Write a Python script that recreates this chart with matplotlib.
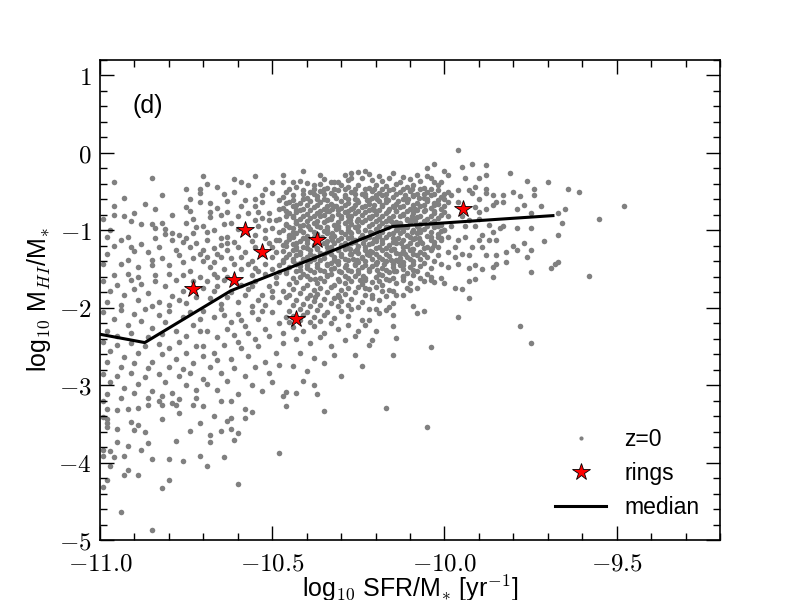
import matplotlib
matplotlib.use('Agg')
import matplotlib.pyplot as plt
import numpy as np
from matplotlib.lines import Line2D
from matplotlib.ticker import MultipleLocator, FuncFormatter

plt.rcParams['font.family'] = ['Liberation Sans', 'DejaVu Sans']
plt.rcParams['mathtext.fontset'] = 'cm'

# ---------------- data ----------------
# z=0 galaxies: (log10 SFR/M*, log10 MHI/M*), grouped by region of the cloud
z0_far_left = [
    (-10.96,-0.37),(-10.85,-0.33),(-10.70,-0.30),(-10.75,-0.47),(-10.71,-0.46),(-10.71,-0.52),(-10.71,-0.63),
    (-10.87,-0.66),(-10.75,-0.70),(-10.74,-0.75),(-10.96,-0.69),(-10.96,-0.80),(-10.93,-0.82),(-10.91,-0.88),
    (-10.88,-0.92),(-10.85,-0.92),(-10.82,-0.91),(-10.84,-0.97),(-10.75,-0.91),(-10.73,-0.85),(-10.70,-0.94),
    (-10.96,-1.20),(-10.91,-1.21),(-10.84,-1.10),(-10.81,-1.05),(-10.79,-1.12),(-10.77,-1.06),(-10.76,-1.15),
    (-10.75,-1.10),(-10.74,-1.21),(-10.72,-1.17),(-10.98,-1.30),(-10.99,-1.43),(-10.94,-1.43),(-10.92,-1.38),
    (-10.89,-1.47),(-10.85,-1.38),(-10.85,-1.45),(-10.82,-1.36),(-10.80,-1.45),(-10.77,-1.32),(-10.76,-1.41),
    (-10.73,-1.36),(-10.71,-1.30),(-10.92,-1.56),(-10.89,-1.60),(-10.84,-1.58),(-10.80,-1.56),(-10.76,-1.58),
    (-10.74,-1.53),(-10.71,-1.60),(-10.96,-1.58),(-10.99,-0.86),(-10.97,-1.00),(-10.94,-1.12),(-10.92,-1.08),
    (-10.90,-1.27),(-10.88,-1.18),(-10.86,-1.28),(-10.83,-1.22),(-10.81,-0.98),(-10.79,-1.04),(-10.78,-1.26),
    (-10.73,-1.03),(-10.72,-0.96),(-10.98,-1.08),(-10.90,-0.78),(-10.84,-0.72),(-10.79,-0.80),(-10.74,-0.60),
    (-10.82,-0.55),(-10.93,-0.58),
    (-10.99,-1.66),(-10.97,-1.78),(-10.95,-1.70),(-10.93,-1.84),(-10.91,-1.64),(-10.90,-1.76),(-10.88,-1.69),
    (-10.86,-1.81),(-10.84,-1.66),(-10.83,-1.92),(-10.81,-1.72),(-10.79,-1.85),(-10.78,-1.64),(-10.76,-1.78),
    (-10.75,-1.94),(-10.73,-1.66),(-10.72,-1.86),(-10.70,-1.74),(-10.98,-1.93),(-10.94,-1.97),(-10.89,-1.90),
    (-10.85,-1.98),(-10.80,-1.96),(-10.77,-1.90),
    (-10.99,-2.06),(-10.96,-2.14),(-10.94,-2.03),(-10.92,-2.22),(-10.90,-2.08),(-10.88,-2.17),(-10.87,-2.02),
    (-10.85,-2.26),(-10.83,-2.10),(-10.81,-2.18),(-10.80,-2.04),(-10.78,-2.30),(-10.76,-2.12),(-10.74,-2.06),
    (-10.73,-2.22),(-10.71,-2.14),(-10.98,-2.30),(-10.95,-2.36),(-10.91,-2.32),(-10.86,-2.38),(-10.82,-2.34),
    (-10.75,-2.36),(-10.71,-2.30),
    (-10.99,-2.44),(-10.97,-2.56),(-10.95,-2.48),(-10.93,-2.64),(-10.91,-2.46),(-10.89,-2.58),(-10.87,-2.50),
    (-10.85,-2.70),(-10.83,-2.47),(-10.82,-2.60),(-10.80,-2.52),(-10.78,-2.66),(-10.77,-2.44),(-10.75,-2.58),
    (-10.73,-2.72),(-10.72,-2.50),(-10.70,-2.62),(-10.98,-2.70),(-10.94,-2.76),(-10.90,-2.72),(-10.86,-2.78),
    (-10.80,-2.76),(-10.76,-2.79),
    (-10.99,-2.86),(-10.97,-2.96),(-10.95,-2.88),(-10.93,-3.04),(-10.91,-2.84),(-10.89,-2.98),(-10.87,-2.90),
    (-10.85,-3.08),(-10.83,-2.86),(-10.81,-2.96),(-10.79,-3.10),(-10.77,-2.88),(-10.75,-3.00),(-10.74,-2.84),
    (-10.72,-3.06),(-10.70,-2.92),(-10.98,-3.12),(-10.94,-3.16),(-10.90,-3.10),(-10.86,-3.16),(-10.82,-3.14),
    (-10.77,-3.18),(-10.72,-3.16),
    (-10.99,-3.21),(-10.98,-3.31),(-10.95,-3.32),(-10.92,-3.31),(-10.89,-3.30),(-10.86,-3.25),(-10.83,-3.21),
    (-10.82,-3.26),(-10.79,-3.23),(-10.78,-3.25),(-10.73,-3.25),(-10.70,-3.27),(-10.99,-3.41),(-10.98,-3.44),
    (-10.98,-3.49),(-10.98,-3.54),(-10.95,-3.57),(-10.91,-3.48),(-10.89,-3.51),(-10.90,-3.58),(-10.87,-3.60),
    (-10.82,-3.44),(-10.77,-3.36),(-10.74,-3.59),(-10.71,-3.49),(-10.78,-3.72),(-10.86,-3.75),(-10.92,-3.79),
    (-10.95,-3.73),(-10.99,-3.84),(-10.97,-3.85),(-10.99,-3.92),(-10.96,-3.93),(-10.93,-3.92),(-10.88,-3.84),
    (-10.85,-3.96),(-10.80,-3.96),(-10.76,-3.98),(-10.71,-3.91),(-10.97,-4.05),(-10.92,-4.10),(-10.93,-4.16),
    (-10.89,-4.16),(-10.80,-4.23),(-10.82,-4.33),(-10.98,-4.23),(-10.99,-4.31),(-10.94,-4.64),(-10.85,-4.87),
]

z0_mid = [
    (-10.61,-0.34),(-10.59,-0.38),(-10.50,-0.38),(-10.47,-0.37),(-10.64,-0.53),(-10.68,-0.65),(-10.66,-0.71),
    (-10.63,-0.76),(-10.55,-0.59),(-10.58,-0.61),(-10.59,-0.69),(-10.53,-0.54),(-10.52,-0.46),(-10.48,-0.61),
    (-10.46,-0.65),(-10.48,-0.72),(-10.55,-0.69),(-10.54,-0.76),(-10.51,-0.78),(-10.68,-0.83),(-10.65,-0.80),
    (-10.67,-1.00),(-10.69,-1.02),(-10.62,-0.91),(-10.60,-0.82),(-10.55,-0.87),(-10.51,-0.87),(-10.49,-0.87),
    (-10.54,-0.95),(-10.50,-0.97),(-10.46,-0.93),(-10.46,-0.82),(-10.69,-1.12),(-10.65,-1.10),(-10.67,-1.23),
    (-10.65,-1.19),(-10.63,-1.08),(-10.63,-1.17),(-10.61,-1.15),(-10.55,-1.06),(-10.52,-1.10),(-10.49,-1.12),
    (-10.50,-1.21),(-10.47,-1.19),(-10.55,-1.21),(-10.45,-1.08),(-10.69,-1.34),(-10.67,-1.41),(-10.65,-1.34),
    (-10.62,-1.36),(-10.59,-1.34),(-10.57,-1.43),(-10.55,-1.49),(-10.50,-1.34),(-10.48,-1.45),(-10.46,-1.53),
    (-10.67,-1.56),(-10.63,-1.60),(-10.56,-1.58),(-10.52,-1.56),(-10.49,-1.60),
    (-10.69,-0.40),(-10.66,-0.44),(-10.63,-0.62),(-10.61,-0.50),(-10.57,-0.42),(-10.55,-0.30),(-10.53,-0.64),
    (-10.50,-0.52),(-10.47,-0.28),(-10.45,-0.47),(-10.68,-0.76),(-10.64,-0.92),(-10.60,-0.98),(-10.57,-0.78),
    (-10.53,-0.84),(-10.52,-1.00),(-10.48,-1.02),(-10.46,-1.15),(-10.70,-1.26),(-10.66,-1.30),(-10.63,-1.25),
    (-10.60,-1.22),(-10.58,-1.28),(-10.56,-1.14),(-10.53,-1.30),(-10.51,-1.16),(-10.49,-1.28),(-10.47,-1.38),
    (-10.68,-1.48),(-10.64,-1.50),(-10.61,-1.44),(-10.59,-1.50),(-10.56,-1.40),(-10.54,-1.52),(-10.52,-1.44),
    (-10.50,-1.50),(-10.48,-1.54),(-10.70,-1.40),(-10.66,-1.60),
    (-10.69,-1.66),(-10.66,-1.72),(-10.64,-1.64),(-10.62,-1.80),(-10.59,-1.70),(-10.57,-1.76),(-10.55,-1.66),
    (-10.53,-1.84),(-10.51,-1.72),(-10.49,-1.68),(-10.47,-1.78),(-10.68,-1.88),(-10.65,-1.95),(-10.63,-1.86),
    (-10.60,-1.92),(-10.58,-1.84),(-10.56,-1.98),(-10.54,-1.90),(-10.52,-1.96),(-10.50,-1.86),(-10.48,-1.93),
    (-10.46,-1.86),(-10.67,-1.78),(-10.56,-1.72),(-10.50,-1.78),
    (-10.70,-2.04),(-10.67,-2.12),(-10.65,-2.02),(-10.62,-2.18),(-10.60,-2.08),(-10.58,-2.24),(-10.56,-2.06),
    (-10.54,-2.15),(-10.52,-2.28),(-10.50,-2.05),(-10.48,-2.20),(-10.46,-2.12),(-10.69,-2.30),(-10.66,-2.38),
    (-10.63,-2.28),(-10.61,-2.35),(-10.57,-2.32),(-10.55,-2.40),(-10.51,-2.36),(-10.47,-2.32),(-10.64,-2.10),
    (-10.59,-2.16),(-10.53,-2.04),
    (-10.70,-2.50),(-10.67,-2.58),(-10.64,-2.48),(-10.62,-2.66),(-10.59,-2.52),(-10.57,-2.62),(-10.54,-2.50),
    (-10.52,-2.70),(-10.49,-2.58),(-10.47,-2.46),(-10.68,-2.76),(-10.65,-2.84),(-10.61,-2.78),(-10.58,-2.88),
    (-10.55,-2.76),(-10.51,-2.84),(-10.48,-2.74),(-10.66,-2.68),(-10.60,-2.44),
    (-10.69,-2.98),(-10.66,-3.06),(-10.63,-2.95),(-10.60,-3.12),(-10.56,-3.00),(-10.53,-3.08),(-10.50,-2.96),
    (-10.47,-3.14),(-10.41,-2.95),(-10.37,-3.12),
    (-10.65,-3.20),(-10.62,-3.20),(-10.58,-3.31),(-10.56,-3.35),(-10.46,-3.27),(-10.35,-3.33),(-10.67,-3.40),
    (-10.63,-3.46),(-10.62,-3.42),(-10.58,-3.42),(-10.65,-3.59),(-10.62,-3.57),(-10.60,-3.62),(-10.68,-3.65),
    (-10.68,-3.74),(-10.61,-3.71),(-10.69,-4.05),(-10.64,-3.93),(-10.60,-4.28),(-10.48,-3.87),
    (-10.44,-2.25),(-10.41,-2.30),(-10.38,-2.24),(-10.35,-2.33),(-10.31,-2.27),(-10.28,-2.22),(-10.25,-2.30),
    (-10.43,-2.40),(-10.39,-2.45),(-10.36,-2.38),(-10.33,-2.50),(-10.29,-2.42),(-10.26,-2.36),(-10.22,-2.48),
    (-10.42,-2.58),(-10.38,-2.65),(-10.32,-2.61),(-10.26,-2.61),(-10.44,-2.75),(-10.40,-2.82),(-10.35,-2.72),
    (-10.30,-2.88),(-10.43,-3.10),(-10.46,-3.09),(-10.38,-3.00),(-10.24,-2.75),(-10.20,-2.30),(-10.23,-2.22),
]

z0_core = [
    (-10.41,-0.24),(-10.36,-0.28),(-10.27,-0.26),(-10.25,-0.25),(-10.23,-0.23),(-10.44,-0.38),(-10.40,-0.39),
    (-10.36,-0.40),(-10.33,-0.38),(-10.31,-0.37),(-10.28,-0.35),(-10.24,-0.33),(-10.42,-0.74),(-10.43,-0.91),
    (-10.43,-1.21),(-10.43,-1.43),(-10.40,-1.38),
    (-10.29,-0.29),(-10.22,-0.27),(-10.19,-0.30),(-10.15,-0.26),(-10.12,-0.31),(-10.08,-0.28),(-10.05,-0.30),
    (-10.42,-0.36),(-10.35,-0.34),(-10.32,-0.37),(-10.27,-0.33),(-10.21,-0.35),(-10.18,-0.36),(-10.16,-0.33),
    (-10.13,-0.37),(-10.10,-0.34),(-10.07,-0.36),(-10.03,-0.38),
    (-10.43,-0.44),(-10.38,-0.42),(-10.34,-0.45),(-10.30,-0.41),(-10.28,-0.44),(-10.25,-0.42),(-10.22,-0.45),
    (-10.20,-0.41),(-10.17,-0.43),(-10.14,-0.40),(-10.11,-0.44),(-10.09,-0.42),(-10.06,-0.45),(-10.02,-0.41),
    (-10.46,-0.50),(-10.41,-0.48),(-10.39,-0.51),(-10.36,-0.49),(-10.33,-0.52),(-10.31,-0.48),(-10.27,-0.50),
    (-10.24,-0.53),(-10.21,-0.49),(-10.19,-0.52),(-10.16,-0.48),(-10.13,-0.51),(-10.10,-0.49),(-10.08,-0.53),
    (-10.05,-0.50),(-10.02,-0.48),(-9.99,-0.51),
    (-10.47,-0.57),(-10.44,-0.55),(-10.40,-0.58),(-10.37,-0.56),(-10.35,-0.59),(-10.32,-0.55),(-10.29,-0.57),
    (-10.26,-0.59),(-10.23,-0.56),(-10.21,-0.58),(-10.18,-0.55),(-10.15,-0.57),(-10.12,-0.59),(-10.09,-0.56),
    (-10.06,-0.58),(-10.04,-0.55),(-10.01,-0.57),
    (-10.45,-0.63),(-10.42,-0.65),(-10.39,-0.62),(-10.36,-0.64),(-10.33,-0.66),(-10.30,-0.62),(-10.28,-0.65),
    (-10.25,-0.63),(-10.22,-0.66),(-10.19,-0.62),(-10.17,-0.64),(-10.14,-0.66),(-10.11,-0.63),(-10.08,-0.65),
    (-10.05,-0.62),(-10.02,-0.66),(-9.99,-0.64),
    (-10.47,-0.71),(-10.44,-0.69),(-10.41,-0.72),(-10.38,-0.70),(-10.35,-0.73),(-10.32,-0.69),(-10.30,-0.71),
    (-10.27,-0.73),(-10.24,-0.70),(-10.21,-0.72),(-10.18,-0.69),(-10.16,-0.73),(-10.13,-0.70),(-10.10,-0.72),
    (-10.07,-0.69),(-10.04,-0.71),(-10.01,-0.73),
    (-10.45,-0.78),(-10.43,-0.76),(-10.40,-0.79),(-10.37,-0.77),(-10.34,-0.75),(-10.31,-0.79),(-10.29,-0.76),
    (-10.26,-0.78),(-10.23,-0.76),(-10.20,-0.79),(-10.17,-0.77),(-10.14,-0.75),(-10.12,-0.79),(-10.09,-0.77),
    (-10.06,-0.75),(-10.03,-0.78),(-10.00,-0.76),
    (-10.48,-0.85),(-10.44,-0.83),(-10.42,-0.86),(-10.39,-0.84),(-10.36,-0.82),(-10.33,-0.86),(-10.30,-0.84),
    (-10.28,-0.82),(-10.25,-0.85),(-10.22,-0.83),(-10.19,-0.86),(-10.16,-0.84),(-10.13,-0.82),(-10.11,-0.85),
    (-10.08,-0.83),(-10.05,-0.86),(-10.02,-0.84),(-9.99,-0.82),
    (-10.46,-0.92),(-10.43,-0.90),(-10.41,-0.93),(-10.38,-0.91),(-10.35,-0.89),(-10.32,-0.93),(-10.29,-0.90),
    (-10.27,-0.92),(-10.24,-0.89),(-10.21,-0.92),(-10.18,-0.90),(-10.15,-0.93),(-10.13,-0.91),(-10.10,-0.89),
    (-10.07,-0.92),(-10.04,-0.90),(-10.01,-0.93),
    (-10.47,-0.99),(-10.44,-0.97),(-10.42,-1.00),(-10.39,-0.98),(-10.36,-0.96),(-10.34,-1.00),(-10.31,-0.97),
    (-10.28,-0.99),(-10.26,-0.96),(-10.23,-1.00),(-10.20,-0.98),(-10.17,-0.96),(-10.14,-0.99),(-10.12,-0.97),
    (-10.09,-1.00),(-10.06,-0.98),(-10.03,-0.96),(-10.00,-0.99),
    (-10.45,-1.06),(-10.43,-1.04),(-10.40,-1.07),(-10.37,-1.05),(-10.34,-1.03),(-10.32,-1.07),(-10.29,-1.05),
    (-10.27,-1.03),(-10.24,-1.06),(-10.21,-1.04),(-10.19,-1.07),(-10.16,-1.05),(-10.13,-1.03),(-10.11,-1.06),
    (-10.08,-1.04),(-10.05,-1.07),(-10.02,-1.05),
    (-10.48,-1.13),(-10.45,-1.11),(-10.42,-1.14),(-10.40,-1.12),(-10.37,-1.10),(-10.34,-1.14),(-10.31,-1.12),
    (-10.28,-1.10),(-10.26,-1.13),(-10.23,-1.11),(-10.20,-1.14),(-10.18,-1.12),(-10.15,-1.10),(-10.12,-1.13),
    (-10.09,-1.11),(-10.07,-1.14),(-10.04,-1.12),(-10.01,-1.10),
    (-10.46,-1.20),(-10.44,-1.18),(-10.41,-1.21),(-10.38,-1.19),(-10.35,-1.17),(-10.33,-1.21),(-10.30,-1.19),
    (-10.27,-1.17),(-10.25,-1.20),(-10.22,-1.18),(-10.19,-1.21),(-10.16,-1.19),(-10.14,-1.17),(-10.11,-1.20),
    (-10.08,-1.18),(-10.05,-1.21),(-10.03,-1.19),
    (-10.47,-1.27),(-10.44,-1.25),(-10.42,-1.28),(-10.39,-1.26),(-10.37,-1.24),(-10.34,-1.28),(-10.31,-1.26),
    (-10.29,-1.24),(-10.26,-1.27),(-10.23,-1.25),(-10.21,-1.28),(-10.18,-1.26),(-10.15,-1.24),(-10.12,-1.27),
    (-10.10,-1.25),(-10.07,-1.28),(-10.04,-1.26),
    (-10.46,-1.34),(-10.43,-1.32),(-10.40,-1.35),(-10.38,-1.33),(-10.35,-1.31),(-10.32,-1.35),(-10.30,-1.33),
    (-10.27,-1.31),(-10.24,-1.34),(-10.22,-1.32),(-10.19,-1.35),(-10.16,-1.33),(-10.13,-1.31),(-10.11,-1.34),
    (-10.08,-1.32),(-10.05,-1.35),
    (-10.47,-1.41),(-10.44,-1.39),(-10.42,-1.42),(-10.39,-1.40),(-10.36,-1.38),(-10.33,-1.42),(-10.31,-1.40),
    (-10.28,-1.38),(-10.25,-1.41),(-10.23,-1.39),(-10.20,-1.42),(-10.17,-1.40),(-10.14,-1.38),(-10.12,-1.41),
    (-10.09,-1.39),(-10.06,-1.42),(-10.03,-1.40),
    (-10.45,-1.48),(-10.42,-1.46),(-10.40,-1.49),(-10.37,-1.47),(-10.34,-1.45),(-10.32,-1.49),(-10.29,-1.47),
    (-10.26,-1.45),(-10.24,-1.48),(-10.21,-1.46),(-10.18,-1.49),(-10.15,-1.47),(-10.13,-1.45),(-10.10,-1.48),
    (-10.07,-1.46),
    (-10.46,-1.55),(-10.43,-1.53),(-10.41,-1.56),(-10.38,-1.54),(-10.35,-1.52),(-10.33,-1.56),(-10.30,-1.54),
    (-10.27,-1.52),(-10.25,-1.55),(-10.22,-1.53),(-10.19,-1.56),(-10.16,-1.54),(-10.14,-1.52),(-10.11,-1.55),
    (-10.08,-1.53),
    (-10.44,-1.62),(-10.42,-1.60),(-10.39,-1.63),(-10.36,-1.61),(-10.34,-1.59),(-10.31,-1.63),(-10.28,-1.61),
    (-10.26,-1.59),(-10.23,-1.62),(-10.20,-1.60),(-10.17,-1.63),(-10.15,-1.61),(-10.12,-1.59),
    (-10.45,-1.69),(-10.43,-1.67),(-10.40,-1.70),(-10.37,-1.68),(-10.35,-1.66),(-10.32,-1.70),(-10.29,-1.68),
    (-10.27,-1.66),(-10.24,-1.69),(-10.21,-1.67),(-10.18,-1.70),(-10.14,-1.68),
    (-10.44,-1.76),(-10.41,-1.74),(-10.38,-1.77),(-10.36,-1.75),(-10.33,-1.73),(-10.30,-1.77),(-10.28,-1.75),
    (-10.25,-1.73),(-10.22,-1.76),(-10.16,-1.77),
    (-10.45,-1.83),(-10.42,-1.81),(-10.39,-1.84),(-10.37,-1.82),(-10.34,-1.80),(-10.31,-1.84),(-10.29,-1.82),
    (-10.26,-1.80),(-10.23,-1.83),(-10.17,-1.85),
    (-10.43,-1.90),(-10.40,-1.88),(-10.38,-1.91),(-10.35,-1.89),(-10.32,-1.87),(-10.30,-1.91),(-10.27,-1.89),
    (-10.24,-1.92),(-10.21,-1.88),
    (-10.44,-1.97),(-10.41,-1.95),(-10.39,-1.98),(-10.36,-1.96),(-10.33,-1.94),(-10.31,-1.98),(-10.28,-1.96),
    (-10.25,-1.99),
    (-10.45,-2.04),(-10.42,-2.02),(-10.40,-2.05),(-10.37,-2.03),(-10.34,-2.06),(-10.30,-2.04),(-10.27,-2.02),
    (-10.44,-2.11),(-10.41,-2.09),(-10.38,-2.12),(-10.35,-2.10),(-10.32,-2.13),(-10.28,-2.11),
    (-10.45,-2.18),(-10.42,-2.16),(-10.39,-2.19),(-10.36,-2.17),(-10.33,-2.20),
    (-10.35,-0.46),(-10.29,-0.47),(-10.23,-0.46),(-10.18,-0.47),(-10.12,-0.46),(-10.07,-0.47),
    (-10.38,-0.53),(-10.32,-0.54),(-10.26,-0.53),(-10.20,-0.54),(-10.14,-0.53),(-10.09,-0.54),(-10.03,-0.53),
    (-10.41,-0.60),(-10.34,-0.61),(-10.28,-0.60),(-10.22,-0.61),(-10.17,-0.60),(-10.11,-0.61),(-10.05,-0.60),
    (-10.40,-0.67),(-10.34,-0.68),(-10.29,-0.67),(-10.23,-0.68),(-10.18,-0.67),(-10.12,-0.68),(-10.06,-0.67),
    (-10.00,-0.68),
    (-10.43,-0.74),(-10.36,-0.75),(-10.31,-0.74),(-10.25,-0.75),(-10.19,-0.74),(-10.14,-0.75),(-10.08,-0.74),
    (-10.03,-0.75),
    (-10.41,-0.81),(-10.35,-0.80),(-10.30,-0.81),(-10.24,-0.80),(-10.18,-0.81),(-10.12,-0.80),(-10.07,-0.81),
    (-10.01,-0.80),
    (-10.40,-0.88),(-10.34,-0.87),(-10.28,-0.88),(-10.23,-0.87),(-10.17,-0.88),(-10.11,-0.87),(-10.06,-0.88),
    (-10.42,-0.95),(-10.37,-0.94),(-10.31,-0.95),(-10.25,-0.94),(-10.19,-0.95),(-10.14,-0.94),(-10.08,-0.95),
    (-10.02,-0.94),
    (-10.41,-1.02),(-10.35,-1.01),(-10.30,-1.02),(-10.25,-1.01),(-10.18,-1.02),(-10.12,-1.01),(-10.07,-1.02),
    (-10.01,-1.01),
    (-10.44,-1.09),(-10.38,-1.08),(-10.33,-1.09),(-10.27,-1.08),(-10.22,-1.09),(-10.17,-1.08),(-10.10,-1.09),
    (-10.04,-1.08),
    (-10.43,-1.16),(-10.37,-1.15),(-10.32,-1.16),(-10.26,-1.15),(-10.21,-1.16),(-10.15,-1.15),(-10.10,-1.16),
    (-10.03,-1.15),
    (-10.40,-1.23),(-10.34,-1.22),(-10.28,-1.23),(-10.23,-1.22),(-10.17,-1.23),(-10.12,-1.22),(-10.06,-1.23),
    (-10.42,-1.30),(-10.36,-1.29),(-10.30,-1.30),(-10.25,-1.29),(-10.20,-1.30),(-10.14,-1.29),(-10.09,-1.30),
    (-10.41,-1.37),(-10.35,-1.36),(-10.29,-1.37),(-10.24,-1.36),(-10.18,-1.37),(-10.13,-1.36),(-10.07,-1.37),
    (-10.43,-1.44),(-10.37,-1.43),(-10.31,-1.44),(-10.26,-1.43),(-10.20,-1.44),(-10.15,-1.43),(-10.09,-1.44),
    (-10.39,-1.51),(-10.33,-1.50),(-10.28,-1.51),(-10.22,-1.50),(-10.17,-1.51),(-10.12,-1.50),
    (-10.315,-0.585),(-10.255,-0.605),(-10.195,-0.595),(-10.135,-0.615),(-10.075,-0.585),
    (-10.325,-0.725),(-10.265,-0.715),(-10.205,-0.735),(-10.145,-0.705),(-10.085,-0.725),
    (-10.335,-0.855),(-10.275,-0.865),(-10.215,-0.845),(-10.155,-0.875),(-10.095,-0.855),
    (-10.315,-0.985),(-10.255,-0.975),(-10.195,-0.995),(-10.135,-0.965),(-10.075,-0.985),
    (-10.325,-1.125),(-10.265,-1.135),(-10.205,-1.115),(-10.145,-1.125),(-10.085,-1.105),
    (-10.335,-1.255),(-10.275,-1.245),(-10.215,-1.265),(-10.155,-1.255),(-10.095,-1.245),
    (-10.315,-1.395),(-10.255,-1.385),(-10.195,-1.405),(-10.135,-1.395),
    (-10.375,-1.625),(-10.305,-1.655),(-10.245,-1.645),(-10.375,-1.865),(-10.305,-1.855),
]

# extra points filling the densest part of the cloud
z0_core_fill = [
    (-10.38,-0.465),(-10.32,-0.46),(-10.26,-0.47),(-10.205,-0.465),(-10.15,-0.46),(-10.095,-0.47),(-10.04,-0.465),
    (-10.41,-0.535),(-10.35,-0.53),(-10.29,-0.54),(-10.23,-0.535),(-10.17,-0.53),(-10.115,-0.54),(-10.06,-0.535),
    (-10.00,-0.53),
    (-10.44,-0.605),(-10.37,-0.60),(-10.225,-0.61),(-10.165,-0.605),(-10.105,-0.60),(-10.02,-0.61),
    (-10.43,-0.675),(-10.37,-0.67),(-10.315,-0.68),(-10.26,-0.675),(-10.205,-0.67),(-10.15,-0.68),(-10.09,-0.675),
    (-10.03,-0.67),
    (-10.46,-0.745),(-10.39,-0.74),(-10.335,-0.75),(-10.28,-0.745),(-10.22,-0.74),(-10.165,-0.75),(-10.11,-0.745),
    (-10.055,-0.74),
    (-10.44,-0.815),(-10.38,-0.81),(-10.325,-0.82),(-10.27,-0.815),(-10.21,-0.81),(-10.15,-0.82),(-10.095,-0.815),
    (-10.04,-0.81),
    (-10.43,-0.885),(-10.37,-0.88),(-10.31,-0.89),(-10.255,-0.885),(-10.20,-0.88),(-10.14,-0.89),(-10.085,-0.885),
    (-10.03,-0.88),
    (-10.45,-0.955),(-10.395,-0.95),(-10.34,-0.96),(-10.28,-0.955),(-10.22,-0.95),(-10.165,-0.96),(-10.11,-0.955),
    (-10.05,-0.95),
    (-10.44,-1.025),(-10.38,-1.02),(-10.325,-1.03),(-10.275,-1.025),(-10.215,-1.02),(-10.15,-1.03),(-10.095,-1.025),
    (-10.04,-1.02),
    (-10.41,-1.095),(-10.355,-1.09),(-10.30,-1.10),(-10.245,-1.095),(-10.195,-1.09),(-10.135,-1.10),(-10.075,-1.095),
    (-10.02,-1.09),
    (-10.40,-1.165),(-10.345,-1.16),(-10.29,-1.17),(-10.235,-1.165),(-10.18,-1.16),(-10.125,-1.17),(-10.065,-1.165),
    (-10.43,-1.235),(-10.37,-1.23),(-10.31,-1.24),(-10.255,-1.235),(-10.20,-1.23),(-10.145,-1.24),(-10.09,-1.235),
    (-10.035,-1.23),
    (-10.45,-1.305),(-10.39,-1.30),(-10.33,-1.31),(-10.275,-1.305),(-10.225,-1.30),(-10.17,-1.31),(-10.115,-1.305),
    (-10.06,-1.30),
    (-10.44,-1.375),(-10.38,-1.37),(-10.32,-1.38),(-10.265,-1.375),(-10.21,-1.37),(-10.155,-1.38),(-10.10,-1.375),
    (-10.40,-1.445),(-10.34,-1.44),(-10.285,-1.45),(-10.23,-1.445),(-10.175,-1.44),(-10.12,-1.45),
    (-10.42,-1.515),(-10.36,-1.51),(-10.305,-1.52),(-10.25,-1.515),(-10.195,-1.51),(-10.145,-1.52),(-10.09,-1.515),
    (-10.40,-1.585),(-10.34,-1.58),(-10.29,-1.59),(-10.235,-1.585),(-10.18,-1.58),
]

z0_right = [
    (-9.96,0.04),(-10.03,-0.14),(-10.05,-0.20),(-9.95,-0.18),(-9.92,-0.14),(-9.88,-0.16),(-9.81,-0.26),
    (-9.99,-0.28),(-9.94,-0.33),(-9.88,-0.28),(-9.76,-0.36),(-9.70,-0.38),(-9.74,-0.46),(-9.64,-0.46),
    (-9.61,-0.51),(-9.48,-0.68),(-9.80,-0.50),(-9.83,-0.54),(-9.78,-0.56),(-9.74,-0.55),(-9.72,-0.69),
    (-9.79,-0.73),(-9.77,-0.67),(-9.75,-0.77),(-9.67,-0.77),(-9.65,-0.72),(-9.55,-0.85),(-9.66,-0.90),
    (-9.79,-0.97),(-9.75,-0.97),(-9.67,-1.06),(-9.71,-1.14),(-9.75,-1.25),(-9.77,-1.17),(-9.80,-1.20),
    (-9.76,-1.34),(-9.67,-1.41),(-9.69,-1.49),(-9.82,-1.41),(-9.75,-1.54),(-9.86,-1.48),(-9.89,-1.50),
    (-9.91,-1.45),(-9.93,-1.49),(-9.99,-1.47),(-9.85,-1.32),(-9.88,-1.32),(-9.85,-1.43),(-9.82,-1.28),
    (-9.79,-1.25),(-9.84,-0.97),(-9.86,-1.02),(-9.83,-0.95),(-9.87,-0.93),(-9.90,-0.85),(-9.91,-0.95),
    (-9.89,-1.06),(-9.87,-1.13),(-9.85,-1.13),(-9.90,-1.13),(-9.92,-1.21),(-9.89,-1.21),(-9.94,-1.08),
    (-9.94,-0.95),(-9.96,-1.13),(-9.93,-1.32),(-9.95,-1.30),(-9.97,-1.34),(-9.96,-1.43),(-9.99,-1.28),
    (-9.97,-1.21),(-9.88,-0.52),(-9.86,-0.54),(-9.85,-0.63),(-9.83,-0.63),(-9.86,-0.67),(-9.88,-0.72),
    (-9.90,-0.76),(-9.91,-0.70),(-9.88,-0.46),(-9.91,-0.44),(-9.93,-0.48),(-9.96,-0.48),(-9.90,-0.33),
    (-9.92,-0.52),(-9.90,-0.59),(-9.98,-0.54),(-10.00,-0.59),(-10.03,-0.65),(-10.01,-0.37),(-10.04,-0.33),
    (-10.00,-0.24),(-9.96,-0.63),(-9.95,-0.82),(-9.93,-0.87),(-9.98,-0.95),(-10.00,-1.00),(-9.99,-1.08),
    (-10.01,-1.13),(-10.02,-1.21),(-10.02,-1.32),(-10.01,-1.43),(-10.04,-1.49),(-10.05,-1.56),(-10.04,-1.60),
    (-10.12,-1.60),(-10.09,-1.58),(-9.68,-1.43),
    (-9.86,-1.60),(-9.58,-1.59),(-9.91,-1.63),(-9.93,-1.66),(-9.95,-1.76),(-9.97,-1.74),(-9.93,-1.87),
    (-9.96,-2.12),(-9.78,-2.23),(-9.75,-2.45),(-10.04,-2.51),(-10.06,-2.04),(-10.08,-2.07),(-10.09,-1.98),
    (-10.15,-2.10),(-10.15,-2.24),(-10.14,-2.39),(-10.15,-2.61),(-10.21,-2.42),(-10.22,-2.16),(-10.24,-2.16),
    (-10.19,-2.07),(-10.17,-2.03),(-10.20,-2.01),(-10.22,-2.01),(-10.16,-1.99),(-10.15,-1.94),(-10.12,-1.84),
    (-10.10,-1.77),(-10.08,-1.75),(-10.11,-1.75),(-10.06,-1.66),(-10.04,-1.64),(-10.03,-1.67),(-10.01,-1.62),
    (-10.00,-1.68),(-10.07,-1.62),(-10.12,-1.64),(-10.10,-1.68),(-10.14,-1.84),(-10.19,-1.90),(-10.21,-1.84),
    (-10.18,-1.79),(-10.15,-1.79),(-10.23,-1.75),(-10.20,-1.73),(-10.23,-1.64),(-10.19,-1.66),(-10.16,-1.64),
    (-10.17,-3.29),(-10.05,-3.54),
]

# ring galaxies
ring_x = [-10.73, -10.61, -10.58, -10.53, -10.37, -10.43, -9.945]
ring_y = [-1.76, -1.64, -1.00, -1.28, -1.12, -2.14, -0.73]

# running median
median_x = [-11.10, -10.87, -10.62, -10.39, -10.15, -9.92, -9.685]
median_y = [-2.26, -2.45, -1.78, -1.38, -0.95, -0.88, -0.81]

legend_labels = ['z=0', 'rings', 'median']

# ---------------- plot ----------------
fig, ax = plt.subplots(figsize=(8, 6), dpi=100)
fig.subplots_adjust(left=0.125, right=0.9, bottom=0.1, top=0.9)

pts = np.array(z0_far_left + z0_mid + z0_core + z0_core_fill + z0_right)
ax.scatter(pts[:, 0], pts[:, 1], s=16, c='#808080', linewidths=0, zorder=1)
ax.plot(median_x, median_y, color='black', lw=2.2, zorder=2)
ax.plot(ring_x, ring_y, ls='', marker='*', ms=13, mfc='red', mec='black', mew=0.6, zorder=3)

ax.set_xlim(-11.0, -9.2)
ax.set_ylim(-5.0, 1.2)
ax.xaxis.set_major_locator(MultipleLocator(0.5))
ax.xaxis.set_minor_locator(MultipleLocator(0.1))
ax.yaxis.set_major_locator(MultipleLocator(1))
ax.yaxis.set_minor_locator(MultipleLocator(0.2))
ax.xaxis.set_major_formatter(FuncFormatter(lambda v, p: r'$%.1f$' % v))
ax.yaxis.set_major_formatter(FuncFormatter(lambda v, p: r'$%d$' % int(round(v))))

ax.tick_params(which='both', direction='in', top=True, right=True, labelsize=18)
ax.tick_params(which='major', length=10, width=1.0)
ax.tick_params(which='minor', length=5, width=1.0)
ax.tick_params(axis='x', which='major', pad=8)
ax.tick_params(axis='y', which='major', pad=6)
for sp in ax.spines.values():
    sp.set_linewidth(1.2)

ax.set_xlabel(r'log$_{10}$ SFR/M$_{*}$ [yr$^{-1}$]', fontsize=18, labelpad=-1)
ax.set_ylabel(r'log$_{10}$ M$_{HI}$/M$_{*}$', fontsize=18)
ax.text(0.053, 0.905, '(d)', transform=ax.transAxes, fontsize=18, va='center', ha='left')

handles = [
    Line2D([], [], ls='', marker='o', ms=3, color='#808080', mec='none'),
    Line2D([], [], ls='', marker='*', ms=13, mfc='red', mec='black', mew=0.6),
    Line2D([], [], color='black', lw=2.2),
]
ax.legend(handles, legend_labels, loc='lower right', frameon=False, fontsize=16.5,
          handlelength=2.2, labelspacing=0.48, numpoints=1)

fig.savefig('out.png', dpi=100)
